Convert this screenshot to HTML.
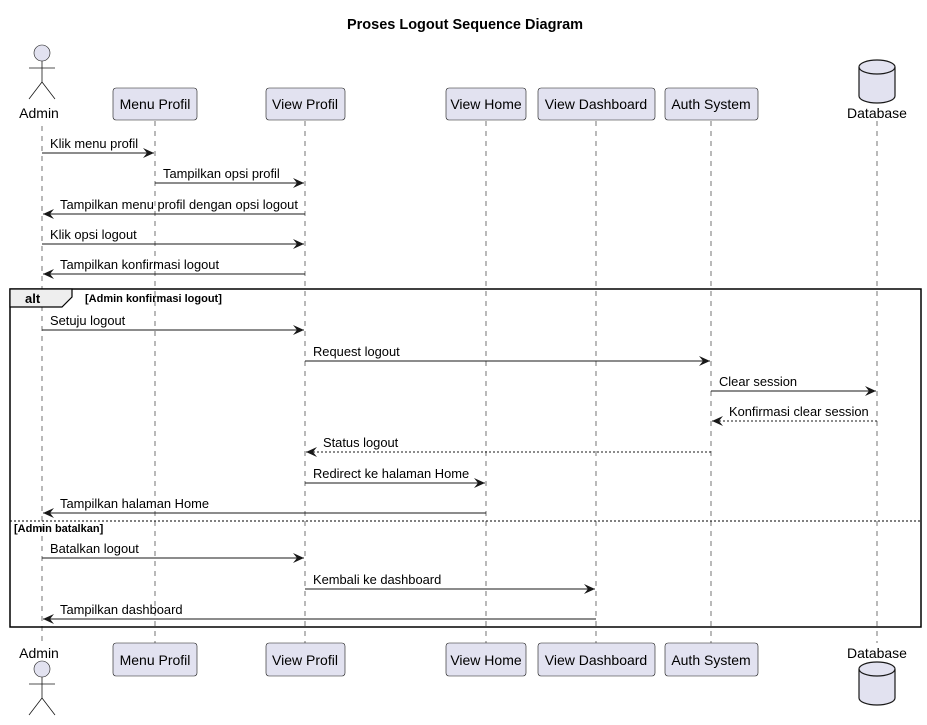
<!DOCTYPE html>
<html><head><meta charset="utf-8"><style>body{margin:0;background:#fff}svg{display:block}</style></head><body>
<svg width="927" height="725" xmlns="http://www.w3.org/2000/svg" font-family="Liberation Sans, sans-serif">
<defs><marker id="a" markerWidth="12" markerHeight="10" refX="11" refY="5" orient="auto" markerUnits="userSpaceOnUse"><path d="M0,0 L11,5 L0,10 L4,5 Z" fill="#181818"/></marker></defs>
<text x="465" y="29" font-size="14.5" font-weight="bold" text-anchor="middle">Proses Logout Sequence Diagram</text>
<g stroke="#181818" stroke-dasharray="5,5" stroke-width="0.6">
<line x1="42" y1="126" x2="42" y2="643"/><line x1="155" y1="121" x2="155" y2="643"/><line x1="305" y1="121" x2="305" y2="643"/><line x1="486" y1="121" x2="486" y2="643"/><line x1="596" y1="121" x2="596" y2="643"/><line x1="711" y1="121" x2="711" y2="643"/><line x1="877" y1="121" x2="877" y2="643"/>
</g>
<g fill="#e2e2f0" stroke="#181818" stroke-width="0.6">
<rect x="113" y="88" width="84" height="32" rx="3"/><rect x="266" y="88" width="79" height="32" rx="3"/><rect x="446" y="88" width="80" height="32" rx="3"/><rect x="538" y="88" width="117" height="32" rx="3"/><rect x="665" y="88" width="93" height="32" rx="3"/>
<rect x="113" y="643" width="84" height="33" rx="3"/><rect x="266" y="643" width="79" height="33" rx="3"/><rect x="446" y="643" width="80" height="33" rx="3"/><rect x="538" y="643" width="117" height="33" rx="3"/><rect x="665" y="643" width="93" height="33" rx="3"/>
<circle cx="42" cy="53" r="8"/><circle cx="42" cy="669" r="8"/>
</g>
<g stroke="#181818" fill="none" stroke-width="0.8">
<path d="M42,61V82M29,68H55M42,82L29,99M42,82L55,99"/>
<path d="M42,677V698M29,684H55M42,698L29,715M42,698L55,715"/>
</g>
<g stroke="#181818" stroke-width="1.2" fill="#e2e2f0">
<path d="M859,67 V96 A18,7 0 0 0 895,96 V67 A18,7 0 0 0 859,67 Z"/><path d="M859,67 A18,7 0 0 0 895,67" fill="none"/>
<path d="M859,669 V698 A18,7 0 0 0 895,698 V669 A18,7 0 0 0 859,669 Z"/><path d="M859,669 A18,7 0 0 0 895,669" fill="none"/>
</g>
<g font-size="14" text-anchor="middle" fill="#000">
<text x="39" y="118">Admin</text><text x="877" y="118">Database</text><text x="39" y="658">Admin</text><text x="877" y="658">Database</text>
<text x="155" y="109">Menu Profil</text><text x="305" y="109">View Profil</text><text x="486" y="109">View Home</text><text x="596" y="109">View Dashboard</text><text x="711" y="109">Auth System</text>
<text x="155" y="665">Menu Profil</text><text x="305" y="665">View Profil</text><text x="486" y="665">View Home</text><text x="596" y="665">View Dashboard</text><text x="711" y="665">Auth System</text>
</g>
<rect x="10" y="289" width="911" height="338" fill="none" stroke="#000" stroke-width="1.5"/>
<path d="M10,289 H72 V297 L62,307 H10 Z" fill="#eee" stroke="#000" stroke-width="1.2"/>
<text x="25" y="303" font-size="13" font-weight="bold">alt</text>
<text x="85" y="302" font-size="11" font-weight="bold">[Admin konfirmasi logout]</text>
<line x1="10" y1="521" x2="921" y2="521" stroke="#000" stroke-dasharray="2,2" stroke-width="1"/>
<text x="14" y="532" font-size="11" font-weight="bold">[Admin batalkan]</text>
<g stroke="#181818" stroke-width="1" marker-end="url(#a)">
<line x1="42" y1="153" x2="154" y2="153"/><line x1="155" y1="183" x2="304" y2="183"/><line x1="305" y1="214" x2="43" y2="214"/><line x1="42" y1="244" x2="304" y2="244"/><line x1="305" y1="274" x2="43" y2="274"/>
<line x1="42" y1="330" x2="304" y2="330"/><line x1="305" y1="361" x2="710" y2="361"/><line x1="711" y1="391" x2="876" y2="391"/>
<line x1="877" y1="421" x2="712" y2="421" stroke-dasharray="2,2"/><line x1="711" y1="452" x2="306" y2="452" stroke-dasharray="2,2"/>
<line x1="305" y1="483" x2="485" y2="483"/><line x1="486" y1="513" x2="43" y2="513"/>
<line x1="42" y1="558" x2="304" y2="558"/><line x1="305" y1="589" x2="595" y2="589"/><line x1="596" y1="619" x2="43" y2="619"/>
</g>
<g font-size="12.9" fill="#000">
<text x="50" y="148">Klik menu profil</text><text x="163" y="178">Tampilkan opsi profil</text><text x="60" y="209">Tampilkan menu profil dengan opsi logout</text><text x="50" y="239">Klik opsi logout</text><text x="60" y="269">Tampilkan konfirmasi logout</text>
<text x="50" y="325">Setuju logout</text><text x="313" y="356">Request logout</text><text x="719" y="386">Clear session</text><text x="729" y="416">Konfirmasi clear session</text><text x="323" y="447">Status logout</text>
<text x="313" y="478">Redirect ke halaman Home</text><text x="60" y="508">Tampilkan halaman Home</text>
<text x="50" y="553">Batalkan logout</text><text x="313" y="584">Kembali ke dashboard</text><text x="60" y="614">Tampilkan dashboard</text>
</g>
</svg>
</body></html>
